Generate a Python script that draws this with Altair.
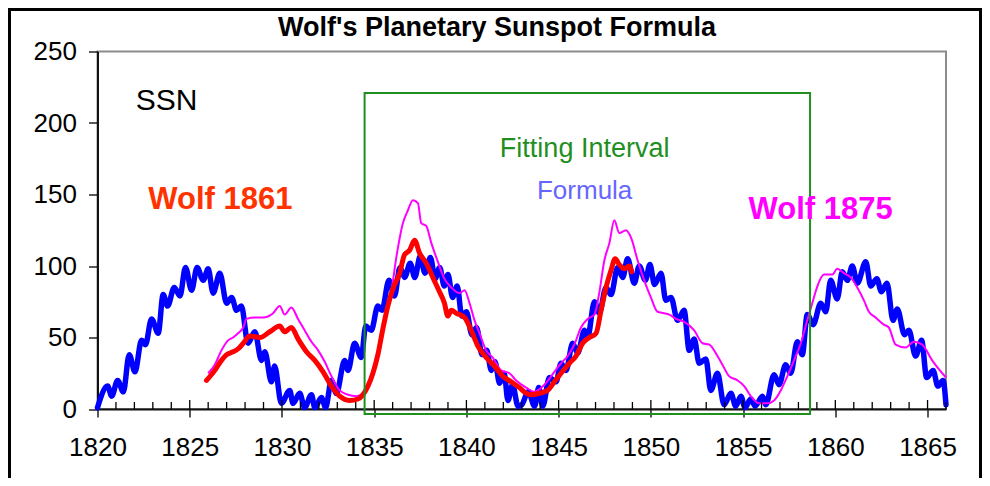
import altair as alt
import pandas as pd

# ---------------- data ----------------
formula_year = [1820.0, 1820.55, 1820.77, 1821.09, 1821.4, 1821.72, 1822.03, 1822.39, 1822.6, 1822.93,
                1823.29, 1823.56, 1823.8, 1824.16, 1824.47, 1824.77, 1825.1, 1825.4, 1825.73, 1826.0,
                1826.27, 1826.63, 1827.0, 1827.27, 1827.54, 1827.8, 1828.16, 1828.53, 1828.89, 1829.07,
                1829.43, 1829.6, 1829.97, 1830.42, 1830.6, 1830.96, 1831.23, 1831.6, 1831.78, 1832.14,
                1832.37, 1832.68, 1832.95, 1833.4, 1833.58, 1833.94, 1834.3, 1834.54, 1834.84, 1835.2,
                1835.42, 1835.8, 1836.1, 1836.4, 1836.65, 1836.95, 1837.2, 1837.5, 1837.75, 1838.05,
                1838.3, 1838.55, 1838.8, 1839.0, 1839.25, 1839.5, 1839.75, 1840.0, 1840.3, 1840.55,
                1840.85, 1841.1, 1841.35, 1841.55, 1841.8, 1842.05, 1842.25, 1842.5, 1842.8, 1843.0,
                1843.35, 1843.7, 1843.92, 1844.14, 1844.5, 1844.86, 1845.13, 1845.4, 1845.76, 1846.03,
                1846.4, 1846.57, 1846.94, 1847.2, 1847.57, 1847.84, 1848.2, 1848.47, 1848.74, 1849.1,
                1849.37, 1849.7, 1849.95, 1850.2, 1850.55, 1850.81, 1851.09, 1851.45, 1851.8, 1852.08,
                1852.35, 1852.62, 1852.98, 1853.25, 1853.61, 1853.97, 1854.34, 1854.6, 1854.88, 1855.1,
                1855.42, 1855.65, 1856.05, 1856.23, 1856.68, 1856.95, 1857.31, 1857.58, 1857.94, 1858.21,
                1858.48, 1858.8, 1859.21, 1859.48, 1859.75, 1860.1, 1860.38, 1860.65, 1860.92, 1861.19,
                1861.65, 1861.92, 1862.25, 1862.5, 1862.8, 1863.13, 1863.36, 1863.75, 1863.99, 1864.35,
                1864.68, 1864.95, 1865.3, 1865.56, 1865.84, 1866.0]
formula_ssn = [1, 16, 9, 20, 12, 38, 26, 48, 45, 63,
               53, 80, 72, 85, 79, 99, 83, 99, 90, 98,
               81, 95, 74, 78, 69, 72, 46, 54, 34, 40,
               19, 30, 4, 13, 4, 11, 1, 10, 1, 8,
               1, 20, 11, 34, 27, 46, 36, 58, 55, 72,
               69, 90, 79, 99, 92, 102, 92, 107, 95, 106,
               91, 99, 86, 94, 78, 86, 65, 68, 52, 57,
               38, 41, 27, 33, 18, 25, 6, 17, 2, 3,
               12, 2, 15, 2, 22, 19, 32, 27, 46, 39,
               55, 50, 75, 67, 85, 80, 99, 92, 105, 88,
               100, 90, 101, 87, 95, 76, 78, 62, 69, 41,
               49, 32, 35, 13, 25, 3, 11, 2, 9, 1,
               7, 2, 9, 3, 24, 17, 31, 25, 47, 38,
               66, 59, 74, 68, 90, 77, 96, 90, 100, 88,
               103, 86, 91, 82, 88, 62, 70, 52, 55, 37,
               48, 22, 27, 16, 20, 3]

wolf1861_year = [1825.91, 1826.36, 1826.72, 1827.0, 1827.35, 1827.62, 1827.9, 1828.26, 1828.8, 1829.34,
                 1829.88, 1830.15, 1830.51, 1830.87, 1831.33, 1831.78, 1832.23, 1832.68, 1833.13, 1833.67,
                 1834.12, 1834.39, 1834.66, 1834.93, 1835.2, 1835.47, 1835.74, 1836.01, 1836.38, 1836.65,
                 1836.92, 1837.19, 1837.46, 1837.82, 1838.18, 1838.54, 1838.81, 1838.99, 1839.18, 1839.45,
                 1839.9, 1840.26, 1840.62, 1841.07, 1841.52, 1841.97, 1842.43, 1842.87, 1843.24, 1843.5,
                 1843.96, 1844.4, 1844.77, 1845.13, 1845.58, 1845.94, 1846.3, 1846.67, 1847.03, 1847.3,
                 1847.57, 1847.84, 1848.06, 1848.29, 1848.56, 1848.83, 1848.96]
wolf1861_ssn = [20, 27, 34, 38, 40, 42, 46, 51, 50, 54,
                58, 54, 57, 49, 40, 34, 26, 16, 9, 6,
                7, 10, 16, 25, 38, 56, 72, 84, 95, 108,
                111, 118, 109, 102, 92, 82, 74, 65, 69, 67,
                64, 55, 44, 36, 30, 23, 19, 15, 11, 10,
                11, 13, 19, 25, 32, 37, 46, 50, 53, 69,
                85, 97, 105, 101, 98, 100, 96]

wolf1875_year = [1826.0, 1826.36, 1826.72, 1827.08, 1827.35, 1827.62, 1827.9, 1828.08, 1828.53, 1828.98,
                 1829.52, 1829.88, 1830.15, 1830.51, 1830.87, 1831.23, 1831.6, 1831.96, 1832.32, 1832.68,
                 1833.13, 1833.58, 1834.03, 1834.39, 1834.75, 1835.11, 1835.39, 1835.66, 1835.9, 1836.2,
                 1836.56, 1836.83, 1837.1, 1837.37, 1837.55, 1837.82, 1838.1, 1838.45, 1838.81, 1839.18,
                 1839.62, 1839.9, 1840.17, 1840.44, 1840.71, 1841.07, 1841.43, 1841.88, 1842.33, 1842.7,
                 1843.24, 1843.69, 1844.23, 1844.77, 1845.13, 1845.49, 1845.85, 1846.21, 1846.57, 1846.94,
                 1847.2, 1847.48, 1847.75, 1848.02, 1848.29, 1848.65, 1848.92, 1849.28, 1849.64, 1850.0,
                 1850.36, 1850.72, 1851.0, 1851.36, 1851.81, 1852.35, 1852.8, 1853.17, 1853.61, 1853.88,
                 1854.24, 1854.7, 1855.06, 1855.42, 1855.87, 1856.32, 1856.68, 1857.04, 1857.4, 1857.76,
                 1858.13, 1858.48, 1858.75, 1859.03, 1859.39, 1859.84, 1860.1, 1860.47, 1860.83, 1861.19,
                 1861.55, 1861.82, 1862.18, 1862.63, 1862.9, 1863.27, 1863.81, 1864.26, 1864.71, 1865.25,
                 1865.6, 1866.0]
wolf1875_ssn = [25, 31, 41, 48, 50, 53, 57, 63, 64, 64,
                67, 72, 66, 71, 63, 55, 47, 41, 33, 23,
                13, 10, 9, 11, 20, 34, 50, 70, 80, 106,
                130, 139, 146, 144, 130, 128, 116, 103, 91, 85,
                81, 83, 74, 62, 53, 41, 36, 27, 25, 20,
                15, 12, 17, 26, 32, 37, 45, 57, 63, 66,
                81, 104, 116, 132, 123, 125, 120, 104, 90, 78,
                68, 67, 66, 63, 61, 55, 46, 45, 37, 31,
                23, 20, 16, 9, 4, 4, 6, 13, 23, 34,
                46, 62, 74, 86, 94, 94, 98, 95, 92, 85,
                76, 68, 64, 59, 57, 45, 43, 47, 45, 34,
                28, 22]

# fitting interval box
fit_start, fit_end = 1834.48, 1858.63
fit_low, fit_high = -3.5, 221

# annotations
ann_text = ["SSN", "Fitting Interval", "Formula"]
ann_year = [1823.74, 1846.41, 1846.41]
ann_val = [215.5, 182, 152.4]
ann_color = ["#000000", "#1f8f1f", "#6666FF"]
ann_size = [30, 27, 26]

bold_text = ["Wolf 1861", "Wolf 1875"]
bold_year = [1826.66, 1859.2]
bold_val = [146.5, 139]
bold_color = ["#FF3300", "#FF00FF"]
bold_size = [31, 31]

x_ticks = [1820, 1825, 1830, 1835, 1840, 1845, 1850, 1855, 1860, 1865]
minor_years = list(range(1821, 1867))
y_ticks = [0, 50, 100, 150, 200, 250]
title_text = "Wolf's Planetary Sunspot Formula"

# ---------------- chart ----------------
FONT = "Liberation Sans"
W, H = 848.5, 357.5

xs = alt.Scale(domain=[1820, 1866], nice=False, zero=False)
ys = alt.Scale(domain=[0, 250], nice=False, zero=True)

x_axis = alt.Axis(values=x_ticks, format="d", labelFont=FONT, labelFontSize=26, labelColor="#000",
                  tickSize=8, tickColor="#000", tickWidth=1.3, labelPadding=17, domainColor="#111",
                  domainWidth=2, grid=False, labelFlush=False, labelOverlap=False, title=None)
y_axis = alt.Axis(values=y_ticks, labelFont=FONT, labelFontSize=26, labelColor="#000",
                  tickSize=9, tickColor="#000", tickWidth=1.3, labelPadding=12, domainColor="#111",
                  domainWidth=2, grid=False, labelFlush=False, labelOverlap=False, title=None)


def X(field):
    return alt.X(f"{field}:Q", scale=xs, axis=x_axis, title=None)


def Y(field):
    return alt.Y(f"{field}:Q", scale=ys, axis=y_axis, title=None)


df_formula = pd.DataFrame({"year": formula_year, "ssn": formula_ssn})
df_1861 = pd.DataFrame({"year": wolf1861_year, "ssn": wolf1861_ssn})
df_1875 = pd.DataFrame({"year": wolf1875_year, "ssn": wolf1875_ssn})

minor_df = pd.DataFrame({
    "year": minor_years,
    "top": [6.3 if y % 5 == 0 else 4.9 for y in minor_years],
    "bot": [0] * len(minor_years),
})

box_df = pd.DataFrame({"x1": [fit_start], "x2": [fit_end], "y1": [fit_low], "y2": [fit_high]})
ann_df = pd.DataFrame({"t": ann_text, "year": ann_year, "v": ann_val, "c": ann_color, "s": ann_size})
bold_df = pd.DataFrame({"t": bold_text, "year": bold_year, "v": bold_val, "c": bold_color, "s": bold_size})
one = pd.DataFrame({"title": [title_text]})

frame = alt.Chart(one).mark_rect(fill="transparent", stroke="#000", strokeWidth=3).encode(
    x=alt.value(-88), x2=alt.value(883), y=alt.value(-42), y2=alt.value(440))

title = alt.Chart(one).mark_text(font=FONT, fontSize=27, fontWeight="bold", color="#000",
                                 align="center", baseline="middle").encode(
    x=alt.value(399.5), y=alt.value(-23.5), text="title:N")

blue = alt.Chart(df_formula).mark_line(color="#0000FF", strokeWidth=5.5, strokeJoin="round",
                                       strokeCap="round", interpolate="monotone").encode(
    x=X("year"), y=Y("ssn"))

magenta = alt.Chart(df_1875).mark_line(color="#FF00FF", strokeWidth=2, strokeJoin="round",
                                       interpolate="monotone").encode(
    x=X("year"), y=Y("ssn"))

red = alt.Chart(df_1861).mark_line(color="#FF0000", strokeWidth=5, strokeJoin="round",
                                   strokeCap="round", interpolate="monotone").encode(
    x=X("year"), y=Y("ssn"))

ticks_in = alt.Chart(minor_df).mark_rule(color="#000", strokeWidth=1.3).encode(
    x=X("year"), y=Y("bot"), y2="top:Q")

box = alt.Chart(box_df).mark_rect(fill="transparent", stroke="#1f8f1f", strokeWidth=2).encode(
    x=X("x1"), x2="x2:Q", y=Y("y1"), y2="y2:Q")

ann = alt.Chart(ann_df).mark_text(font=FONT, align="center", baseline="middle").encode(
    x=X("year"), y=Y("v"), text="t:N",
    color=alt.Color("c:N", scale=None), size=alt.Size("s:Q", scale=None))

ann_bold = alt.Chart(bold_df).mark_text(font=FONT, fontWeight="bold", align="center",
                                        baseline="middle").encode(
    x=X("year"), y=Y("v"), text="t:N",
    color=alt.Color("c:N", scale=None), size=alt.Size("s:Q", scale=None))

chart = alt.layer(frame, title, blue, magenta, red, ticks_in, box, ann, ann_bold).properties(
    width=W, height=H,
    autosize=alt.AutoSizeParams(type="none"),
    padding={"left": 89.5, "top": 43.5, "right": 36, "bottom": 69},
    background="white",
).configure_view(stroke="#8c8c8c", strokeWidth=2)

chart.save("out.html", embed_options={"renderer": "svg", "actions": False})
